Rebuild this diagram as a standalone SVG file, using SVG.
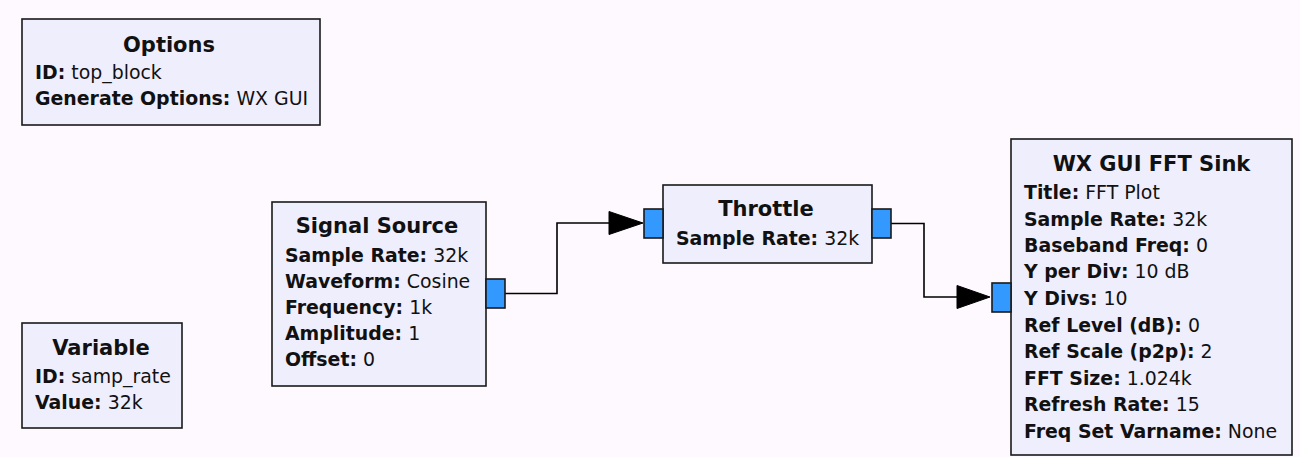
<svg xmlns="http://www.w3.org/2000/svg" width="1300" height="457" viewBox="0 0 1300 457">
<style>
.bg{fill:#FEF9FE}
.blk{fill:#EFEEFD;stroke:#1a1a1a;stroke-width:1.6}
.port{fill:#3399FF;stroke:#1a1a1a;stroke-width:1.6}
.wire{fill:none;stroke:#000;stroke-width:1.6}
.arr{fill:#000;stroke:#000;stroke-width:1}
text{font-family:"DejaVu Sans","Liberation Sans",sans-serif;fill:#111}
.t{font-size:21px;font-weight:bold;text-anchor:middle}
.p{font-size:18.9px}
.k{font-weight:bold}
</style>
<rect class="bg" x="0" y="0" width="1300" height="457"/>
<g id="connectors">
<path class="wire" d="M505,293.5 H557 V223 H612"/>
<polygon class="arr" points="609,211.5 643,223 609,234.5"/>
<path class="wire" d="M891,223.5 H924 V297 H960"/>
<polygon class="arr" points="957,285.5 990,297 957,308.5"/>
</g>
<g id="options">
<rect class="blk" x="22" y="19" width="298" height="106"/>
<text class="t" x="169" y="52">Options</text>
<text class="p" x="35" y="79"><tspan class="k">ID:</tspan> top_block</text>
<text class="p" x="35" y="105"><tspan class="k">Generate Options:</tspan> WX GUI</text>
</g>
<g id="variable">
<rect class="blk" x="22" y="323" width="160" height="105"/>
<text class="t" x="101" y="355">Variable</text>
<text class="p" x="35" y="383"><tspan class="k">ID:</tspan> samp_rate</text>
<text class="p" x="35" y="409"><tspan class="k">Value:</tspan> 32k</text>
</g>
<g id="signal_source">
<rect class="blk" x="272" y="202" width="214" height="184"/>
<rect class="port" x="486" y="279" width="19" height="29"/>
<text class="t" x="377" y="233">Signal Source</text>
<text class="p" x="285" y="262"><tspan class="k">Sample Rate:</tspan> 32k</text>
<text class="p" x="285" y="288"><tspan class="k">Waveform:</tspan> Cosine</text>
<text class="p" x="285" y="314"><tspan class="k">Frequency:</tspan> 1k</text>
<text class="p" x="285" y="340"><tspan class="k">Amplitude:</tspan> 1</text>
<text class="p" x="285" y="366"><tspan class="k">Offset:</tspan> 0</text>
</g>
<g id="throttle">
<rect class="blk" x="663" y="185" width="209" height="78"/>
<rect class="port" x="644" y="209" width="19" height="29"/>
<rect class="port" x="872" y="209" width="19" height="29"/>
<text class="t" x="766" y="216">Throttle</text>
<text class="p" x="676" y="245"><tspan class="k">Sample Rate:</tspan> 32k</text>
</g>
<g id="fft_sink">
<rect class="blk" x="1011" y="139" width="281" height="316"/>
<rect class="port" x="992" y="283" width="19" height="29"/>
<text class="t" x="1151.5" y="171">WX GUI FFT Sink</text>
<text class="p" x="1024" y="199"><tspan class="k">Title:</tspan> FFT Plot</text>
<text class="p" x="1024" y="226"><tspan class="k">Sample Rate:</tspan> 32k</text>
<text class="p" x="1024" y="252"><tspan class="k">Baseband Freq:</tspan> 0</text>
<text class="p" x="1024" y="278"><tspan class="k">Y per Div:</tspan> 10 dB</text>
<text class="p" x="1024" y="305"><tspan class="k">Y Divs:</tspan> 10</text>
<text class="p" x="1024" y="332"><tspan class="k">Ref Level (dB):</tspan> 0</text>
<text class="p" x="1024" y="358"><tspan class="k">Ref Scale (p2p):</tspan> 2</text>
<text class="p" x="1024" y="385"><tspan class="k">FFT Size:</tspan> 1.024k</text>
<text class="p" x="1024" y="411"><tspan class="k">Refresh Rate:</tspan> 15</text>
<text class="p" x="1024" y="438"><tspan class="k">Freq Set Varname:</tspan> None</text>
</g>
</svg>
